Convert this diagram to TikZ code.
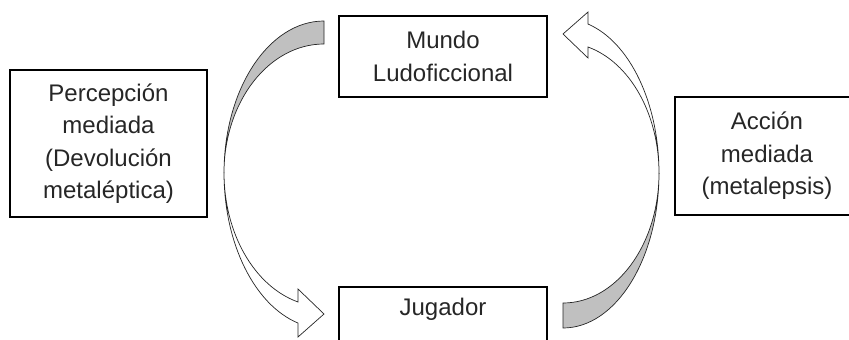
\documentclass[tikz,border=0pt]{standalone}
\usepackage{fontspec}
\setmainfont{Liberation Sans}
\definecolor{ribbon}{RGB}{192,192,192}
\tikzset{
  caja/.style={draw, line width=1.4pt, inner sep=0pt, align=center,
    text=black!85, font=\fontsize{24}{32.5}\selectfont},
  dorso/.style={draw=black!85, line width=0.7pt, fill=ribbon},
  frente/.style={draw=black!85, line width=0.7pt, fill=white}
}
\begin{document}
\begin{tikzpicture}[x=1pt, y=-1pt]
\clip (0,0) rectangle (849,340);
% cajas
\node[caja, minimum width=208pt, minimum height=81pt] (mundo) at (443,56.5) {Mundo\\Ludoficcional};
\node[caja, minimum width=208pt, minimum height=81pt] (jugador) at (443,327.5) {Jugador\\\strut};
\node[caja, minimum width=197pt, minimum height=147pt] (percepcion) at (108.5,143.5) {Percepción\\mediada\\(Devolución\\metaléptica)};
\node[caja, minimum width=184pt, minimum height=118pt] (accion) at (767,156) {Acción\\mediada\\(metalepsis)};
% flecha izquierda: de mundo a jugador
\coordinate (pcruce) at (224,173);
\draw[dorso] (324,21) arc[start angle=270, end angle=180, x radius=100, y radius=152]
  -- (pcruce) arc[start angle=180, end angle=270, x radius=100, y radius=129] -- cycle;
\draw[frente] (pcruce) arc[start angle=180, end angle=105.1, x radius=100, y radius=155.4]
  -- (298,337) -- (324,314) -- (298,289) -- (298,302)
  arc[start angle=105.1, end angle=180, x radius=100, y radius=133.6] -- cycle;
% flecha derecha: de jugador a mundo
\coordinate (acruce) at (659,173);
\draw[dorso] (563,328) arc[start angle=90, end angle=0, x radius=96, y radius=155]
  -- (acruce) arc[start angle=0, end angle=90, x radius=96, y radius=130] -- cycle;
\draw[frente] (acruce) arc[start angle=360, end angle=285.1, x radius=96, y radius=154.3]
  -- (588,12) -- (563,34) -- (588,58) -- (588,47)
  arc[start angle=285.1, end angle=360, x radius=96, y radius=130.5] -- cycle;
\end{tikzpicture}
\end{document}
